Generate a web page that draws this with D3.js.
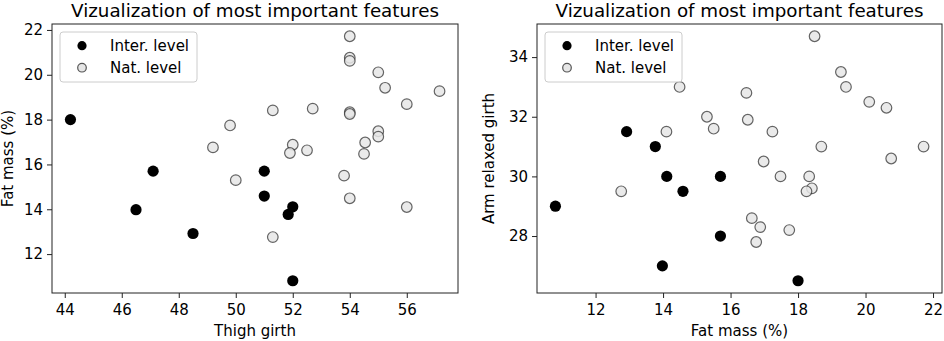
<!DOCTYPE html>
<html lang="en">
  <head>
    <meta charset="utf-8"/>
    <script src="https://d3js.org/d3.v7.min.js"></script>
    <title>Most important features</title>
  </head>
  <body>
    <svg id="chart"></svg>
  </body>

  <style>
    body { margin: 0; background: #fff; }
    svg { font-family: "DejaVu Sans", sans-serif; }
    .tick text { font-family: "DejaVu Sans", sans-serif; font-size: 15px; fill: #000; }
    .tick line { stroke: #222; }
  </style>

  <script>
    // inter. level athletes
    const interThigh = [44.2, 47.1, 46.5, 48.5, 51.0, 51.0, 51.84, 52.0, 52.0];
    const interFat   = [18.0, 15.7, 13.98, 12.92, 15.7, 14.59, 13.77, 14.11, 10.81];
    const interArm   = [26.5, 30.0, 27.0, 31.5, 28.0, 29.5, 31.0, 30.0, 29.0];

    // nat. level athletes
    const natThigh = [54.0, 54.0, 54.0, 55.0, 55.24, 57.15, 56.0, 52.7, 51.3, 54.0, 54.0, 49.8, 55.0,
                      55.0, 54.54, 52.0, 49.2, 52.5, 51.9, 54.5, 53.8, 50.0, 54.0, 56.0, 51.3];
    const natFat   = [21.72, 20.76, 20.62, 20.11, 19.42, 19.27, 18.69, 18.49, 18.41, 18.33, 18.25, 17.74, 17.48,
                      17.24, 16.98, 16.88, 16.76, 16.63, 16.51, 16.47, 15.5, 15.3, 14.49, 14.1, 12.76];
    const natArm   = [31.0, 30.6, 32.3, 32.5, 33.0, 33.5, 31.0, 34.7, 29.6, 30.0, 29.5, 28.2, 30.0,
                      31.5, 30.5, 28.3, 27.8, 28.6, 31.9, 32.8, 31.6, 32.0, 33.0, 31.5, 29.5];

    const xTicksLeft = [44, 46, 48, 50, 52, 54, 56];
    const yTicksLeft = [12, 14, 16, 18, 20, 22];
    const xTicksRight = [12, 14, 16, 18, 20, 22];
    const yTicksRight = [28, 30, 32, 34];

    const legendLabels = ["Inter. level", "Nat. level"];
    const chartTitle = "Vizualization of most important features";

    const W = 944, H = 341;
    const svg = d3.select("#chart").attr("width", W).attr("height", H);

    // pad the extent by 5% like matplotlib does
    const padded = (arr) => {
      const [lo, hi] = d3.extent(arr);
      const m = (hi - lo) * 0.05;
      return [lo - m, hi + m];
    };

    const drawPanel = (box, xs, ys, xTicks, yTicks, xLabel, yLabel, yLabelOff) => {
      const g = svg.append("g");
      const x = d3.scaleLinear().domain(padded(xs[0].concat(xs[1]))).range([box.x0, box.x1]);
      const y = d3.scaleLinear().domain(padded(ys[0].concat(ys[1]))).range([box.y1, box.y0]);

      g.append("g")
        .attr("transform", "translate(0," + box.y1 + ")")
        .call(d3.axisBottom(x).tickValues(xTicks).tickSize(5).tickPadding(6))
        .call(a => a.select(".domain").remove());
      g.append("g")
        .attr("transform", "translate(" + box.x0 + ",0)")
        .call(d3.axisLeft(y).tickValues(yTicks).tickSize(5).tickPadding(4))
        .call(a => a.select(".domain").remove());

      // nat. level first, inter. level on top
      const nat = d3.zip(xs[1], ys[1]);
      g.selectAll(".nat")
        .data(nat)
        .enter()
        .append("circle")
          .attr("cx", d => x(d[0]))
          .attr("cy", d => y(d[1]))
          .attr("r", 5.3)
          .style("fill", "#e6e6e6")
          .style("fill-opacity", 0.85)
          .style("stroke", "#333")
          .style("stroke-opacity", 0.75)
          .style("stroke-width", 1.2);

      const inter = d3.zip(xs[0], ys[0]);
      g.selectAll(".inter")
        .data(inter)
        .enter()
        .append("circle")
          .attr("cx", d => x(d[0]))
          .attr("cy", d => y(d[1]))
          .attr("r", 5.6)
          .style("fill", "#000");

      g.append("rect")
        .attr("x", box.x0).attr("y", box.y0)
        .attr("width", box.x1 - box.x0).attr("height", box.y1 - box.y0)
        .style("fill", "none").style("stroke", "#222").style("stroke-width", 1);

      g.append("text")
        .attr("x", (box.x0 + box.x1) / 2)
        .attr("y", 16.5)
        .attr("text-anchor", "middle")
        .style("font-size", "18.3px")
        .text(chartTitle);

      g.append("text")
        .attr("x", (box.x0 + box.x1) / 2)
        .attr("y", 336)
        .attr("text-anchor", "middle")
        .style("font-size", "15px")
        .text(xLabel);

      g.append("text")
        .attr("transform", "translate(" + (box.x0 - yLabelOff) + "," + ((box.y0 + box.y1) / 2) + ") rotate(-90)")
        .attr("text-anchor", "middle")
        .style("font-size", "15px")
        .text(yLabel);

      // legend
      const lg = g.append("g").attr("transform", "translate(" + (box.x0 + 8) + "," + (box.y0 + 8) + ")");
      lg.append("rect")
        .attr("width", 137).attr("height", 50).attr("rx", 3)
        .style("fill", "#fff").style("fill-opacity", 0.8)
        .style("stroke", "#ccc").style("stroke-width", 1);
      legendLabels.forEach((lab, i) => {
        const cy = 13.7 + i * 22;
        lg.append("circle")
          .attr("cx", 22).attr("cy", cy).attr("r", i === 0 ? 4.6 : 4.3)
          .style("fill", i === 0 ? "#000" : "#e6e6e6")
          .style("stroke", i === 0 ? "none" : "#555")
          .style("stroke-width", 1.2);
        lg.append("text")
          .attr("x", 50).attr("y", cy + 5.3)
          .style("font-size", "15px")
          .text(lab);
      });
    };

    drawPanel({x0: 52, x1: 458, y0: 24, y1: 293},
      [interThigh, natThigh], [interFat, natFat],
      xTicksLeft, yTicksLeft, "Thigh girth", "Fat mass (%)", 39);

    drawPanel({x0: 537, x1: 942, y0: 24, y1: 293},
      [interFat, natFat], [interArm, natArm],
      xTicksRight, yTicksRight, "Fat mass (%)", "Arm relaxed girth", 43);
  </script>
</html>
